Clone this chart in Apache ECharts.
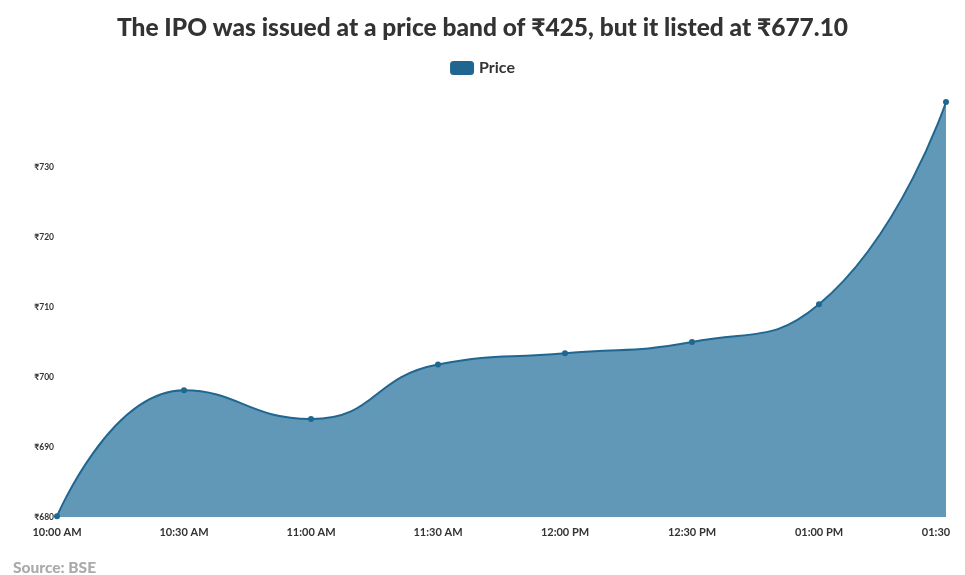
<!DOCTYPE html>
<html>
<head>
<meta charset="utf-8">
<script src="https://cdn.jsdelivr.net/npm/echarts@6/dist/echarts.min.js"></script>
<style>
html,body{margin:0;padding:0;background:#fff;}
#chart{width:965px;height:575px;}
</style>
</head>
<body>
<div id="chart"></div>
<script>
const categories = ["10:00 AM","10:30 AM","11:00 AM","11:30 AM","12:00 PM","12:30 PM","01:00 PM","01:30"];
const priceValues = [680.1, 698.1, 694.0, 701.8, 703.4, 705.0, 710.4, 739.3];
const seriesName = "Price";
const titleText = "The IPO was issued at a price band of ₹425, but it listed at ₹677.10";
const sourceText = "Source: BSE";

const lblFont = {fontFamily: 'Lato', fontWeight: 'bold', fontSize: 11, color: '#333'};
const chart = echarts.init(document.getElementById('chart'), null, {renderer:'canvas'});
chart.setOption({
  backgroundColor: '#fff',
  animation: false,
  title: [{
    text: titleText,
    left: 'center',
    top: 11,
    textStyle: {fontFamily: 'Lato', fontWeight: 900, fontSize: 24.5, color: '#333'}
  },{
    text: sourceText,
    left: 8,
    top: 555,
    textStyle: {fontFamily: 'Lato', fontWeight: 900, fontSize: 15.5, color: '#aaa'}
  }],
  legend: {
    top: 55,
    left: 'center',
    data: [seriesName],
    itemWidth: 24,
    itemHeight: 14,
    itemGap: 5,
    icon: 'roundRect',
    textStyle: {fontFamily: 'Lato', fontWeight: 'bold', fontSize: 16, color: '#333'}
  },
  grid: {left: 57, right: 19, top: 102, bottom: 58, containLabel: false},
  xAxis: {
    type: 'category',
    data: categories,
    boundaryGap: false,
    axisLine: {show: false},
    axisTick: {show: false},
    axisLabel: Object.assign({}, lblFont, {
      margin: 10, interval: 0,
      formatter: (v, i) => i === categories.length - 1 ? '{c|' + v + '}' : v,
      rich: {c: Object.assign({}, lblFont, {padding: [0, 20, 0, 0]})}
    })
  },
  yAxis: {
    type: 'value',
    min: 680,
    max: 'dataMax',
    interval: 10,
    splitLine: {show: false},
    axisLine: {show: false},
    axisTick: {show: false},
    axisLabel: {fontFamily: 'Lato', fontWeight: 'bold', fontSize: 8.5, color: '#333', margin: 3, showMaxLabel: false,
      formatter: v => '₹' + v}
  },
  series: [{
    name: seriesName,
    type: 'line',
    data: priceValues,
    smooth: true,
    symbol: 'circle',
    symbolSize: 6,
    itemStyle: {color: '#1f6791'},
    lineStyle: {color: '#1f6791', width: 2},
    areaStyle: {color: '#6198b7', opacity: 1}
  }]
});
</script>
</body>
</html>
